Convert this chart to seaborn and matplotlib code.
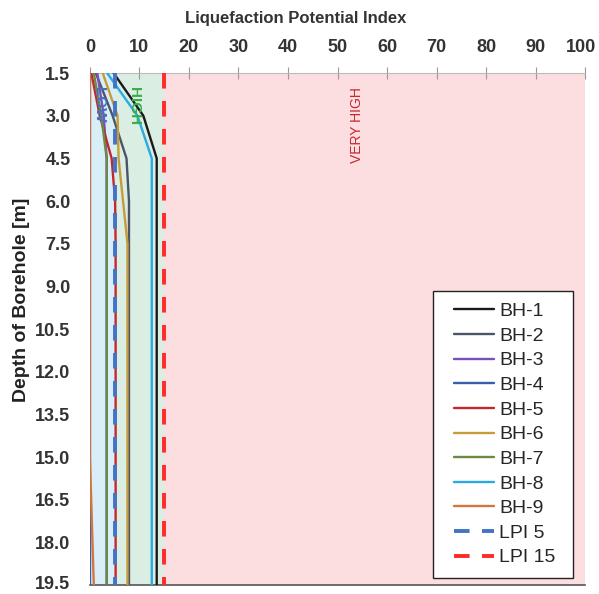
import numpy as np
import pandas as pd
import matplotlib
matplotlib.use("Agg")
import matplotlib.pyplot as plt
from matplotlib.patches import Rectangle
from matplotlib.transforms import ScaledTranslation
import seaborn as sns

# ---------------- data ----------------
depths = [1.5, 3.0, 4.5, 6.0, 7.5, 9.0, 10.5, 12.0, 13.5, 15.0, 16.5, 18.0, 19.5]
bh1 = [4.8, 10.8, 13.5, 13.5, 13.5, 13.5, 13.5, 13.5, 13.5, 13.5, 13.5, 13.5, 13.5]
bh2 = [1.2, 4.6, 7.4, 7.9, 7.9, 7.9, 7.9, 7.9, 7.9, 7.9, 7.9, 7.9, 7.9]
bh3 = [1.5, 2.8, 3.4, 3.4, 3.4, 3.4, 3.4, 3.4, 3.4, 3.4, 3.4, 3.4, 3.4]
bh4 = [0.0, 0.0, 0.0, 0.0, 0.0, 0.0, 0.0, 0.0, 0.0, 0.0, 0.0, 0.0, 0.0]
bh5 = [0.3, 2.0, 4.4, 5.1, 5.2, 5.2, 5.2, 5.2, 5.2, 5.2, 5.2, 5.2, 5.2]
bh6 = [2.6, 5.6, 5.8, 6.7, 7.6, 7.6, 7.6, 7.6, 7.6, 7.6, 7.6, 7.6, 7.6]
bh7 = [0.8, 2.3, 3.4, 3.4, 3.4, 3.4, 3.4, 3.4, 3.4, 3.4, 3.4, 3.4, 3.4]
bh8 = [3.5, 9.6, 12.5, 12.5, 12.5, 12.5, 12.5, 12.5, 12.5, 12.5, 12.5, 12.5, 12.5]
bh9 = [0.0, 0.0, 0.0, 0.0, 0.0, 0.0, 0.0, 0.0, 0.0, 0.0, 0.27, 0.53, 0.8]
series_names = ["BH-1", "BH-2", "BH-3", "BH-4", "BH-5", "BH-6", "BH-7", "BH-8", "BH-9"]
series_vals = [bh1, bh2, bh3, bh4, bh5, bh6, bh7, bh8, bh9]
lpi_limits = [5, 15]
lpi_names = ["LPI 5", "LPI 15"]
x_ticks = [0, 10, 20, 30, 40, 50, 60, 70, 80, 90, 100]
y_ticks = depths

colors = ["#1a1a1a", "#4b5566", "#7b4fb8", "#3a5ea8", "#c3282e",
          "#c79a3a", "#6a8a45", "#2aaae2", "#d3753e"]
lpi_colors = ["#4472c4", "#ff2a2a"]

# ---------------- figure ----------------
sns.set_theme(style="white")
plt.rcParams["font.family"] = ["Liberation Sans", "DejaVu Sans"]

fig = plt.figure(figsize=(5.99, 5.94), dpi=100)
ax = fig.add_axes([0.150, 0.015, 0.827, 0.862])

# zones
ax.axvspan(0, 5, color="#d9eff7", zorder=0, lw=0)
ax.axvspan(5, 15, color="#dbeee3", zorder=0, lw=0)
ax.axvspan(15, 100, color="#fcdde0", zorder=0, lw=0)

for name, vals, c in zip(series_names, series_vals, colors):
    df = pd.DataFrame({"lpi": vals, "depth": depths})
    sns.lineplot(data=df, x="lpi", y="depth", sort=False, estimator=None,
                 color=c, lw=1.7, label=name, ax=ax, zorder=3)

for name, v, c in zip(lpi_names, lpi_limits, lpi_colors):
    df = pd.DataFrame({"lpi": [v, v], "depth": [depths[0], depths[-1]]})
    sns.lineplot(data=df, x="lpi", y="depth", sort=False, estimator=None,
                 color=c, lw=2.8, label=name, ax=ax, zorder=4,
                 dashes=False, linestyle=(0, (4.0, 3.2)))

ax.set_xlim(0, 100)
ax.set_ylim(19.5, 1.5)
ax.set_xticks(x_ticks)
ax.set_yticks(y_ticks)
ax.set_yticklabels([f"{d:.1f}" for d in y_ticks])
ax.xaxis.tick_top()
ax.xaxis.set_label_position("top")
ax.set_xlabel("Liquefaction Potential Index", fontsize=12, fontweight="bold",
              color="#333333", labelpad=12)
ax.xaxis.label.set_x(0.416)
ax.set_ylabel("Depth of Borehole [m]", fontsize=14, fontweight="bold",
              color="#222222")
ax.yaxis.set_label_coords(-0.12, 0.557)
ax.tick_params(axis="both", which="both", direction="inout", length=8,
               width=0.8, color="#999999", labelsize=13, labelcolor="#333333")
ax.tick_params(axis="x", pad=8)
ax.tick_params(axis="y", pad=10)
for lab in ax.get_xticklabels() + ax.get_yticklabels():
    lab.set_fontweight("bold")

# keep edge tick labels inside the canvas
xl = ax.get_xticklabels()[-1]
xl.set_transform(xl.get_transform() + ScaledTranslation(-3 / 72, 0, fig.dpi_scale_trans))
yl = ax.get_yticklabels()[-1]
yl.set_transform(yl.get_transform() + ScaledTranslation(0, 2 / 72, fig.dpi_scale_trans))

for s in ["top", "left", "right"]:
    ax.spines[s].set_color("#bbbbbb")
    ax.spines[s].set_linewidth(0.8)
ax.spines["right"].set_visible(False)
ax.spines["left"].set_visible(False)
ax.spines["bottom"].set_color("#555555")
ax.spines["bottom"].set_linewidth(1.2)

# zone labels
ax.text(1.9, 2.6, "LOW", color="#4472c4", rotation=-90, fontsize=11,
        fontweight="bold", ha="center", va="center", zorder=5)
ax.text(9.0, 2.65, "HIGH", color="#3aae4a", rotation=-90, fontsize=11,
        fontweight="bold", ha="center", va="center", zorder=5)
ax.text(54, 3.33, "VERY HIGH", color="#c3282e", rotation=90, fontsize=10,
        ha="center", va="center", zorder=5)

# legend frame (drawn as a patch) + legend entries
W, H = 599.0, 594.0
fx0, fx1, fy0, fy1 = 433 / W, 573 / W, 1 - 578 / H, 1 - 291 / H
frame = Rectangle((fx0, fy0), fx1 - fx0, fy1 - fy0, transform=fig.transFigure,
                  facecolor="white", edgecolor="#222222", lw=1.0, zorder=6,
                  clip_on=False)
ax.add_patch(frame)
leg = ax.legend(loc="center", bbox_to_anchor=((fx0 + fx1) / 2 + 0.003, (fy0 + fy1) / 2),
                bbox_transform=fig.transFigure, fontsize=14,
                frameon=False, handlelength=2.05, handletextpad=0.25,
                labelspacing=0.36, borderpad=0.0, borderaxespad=0)
leg.set_zorder(7)

fig.savefig("out.png", dpi=100)
